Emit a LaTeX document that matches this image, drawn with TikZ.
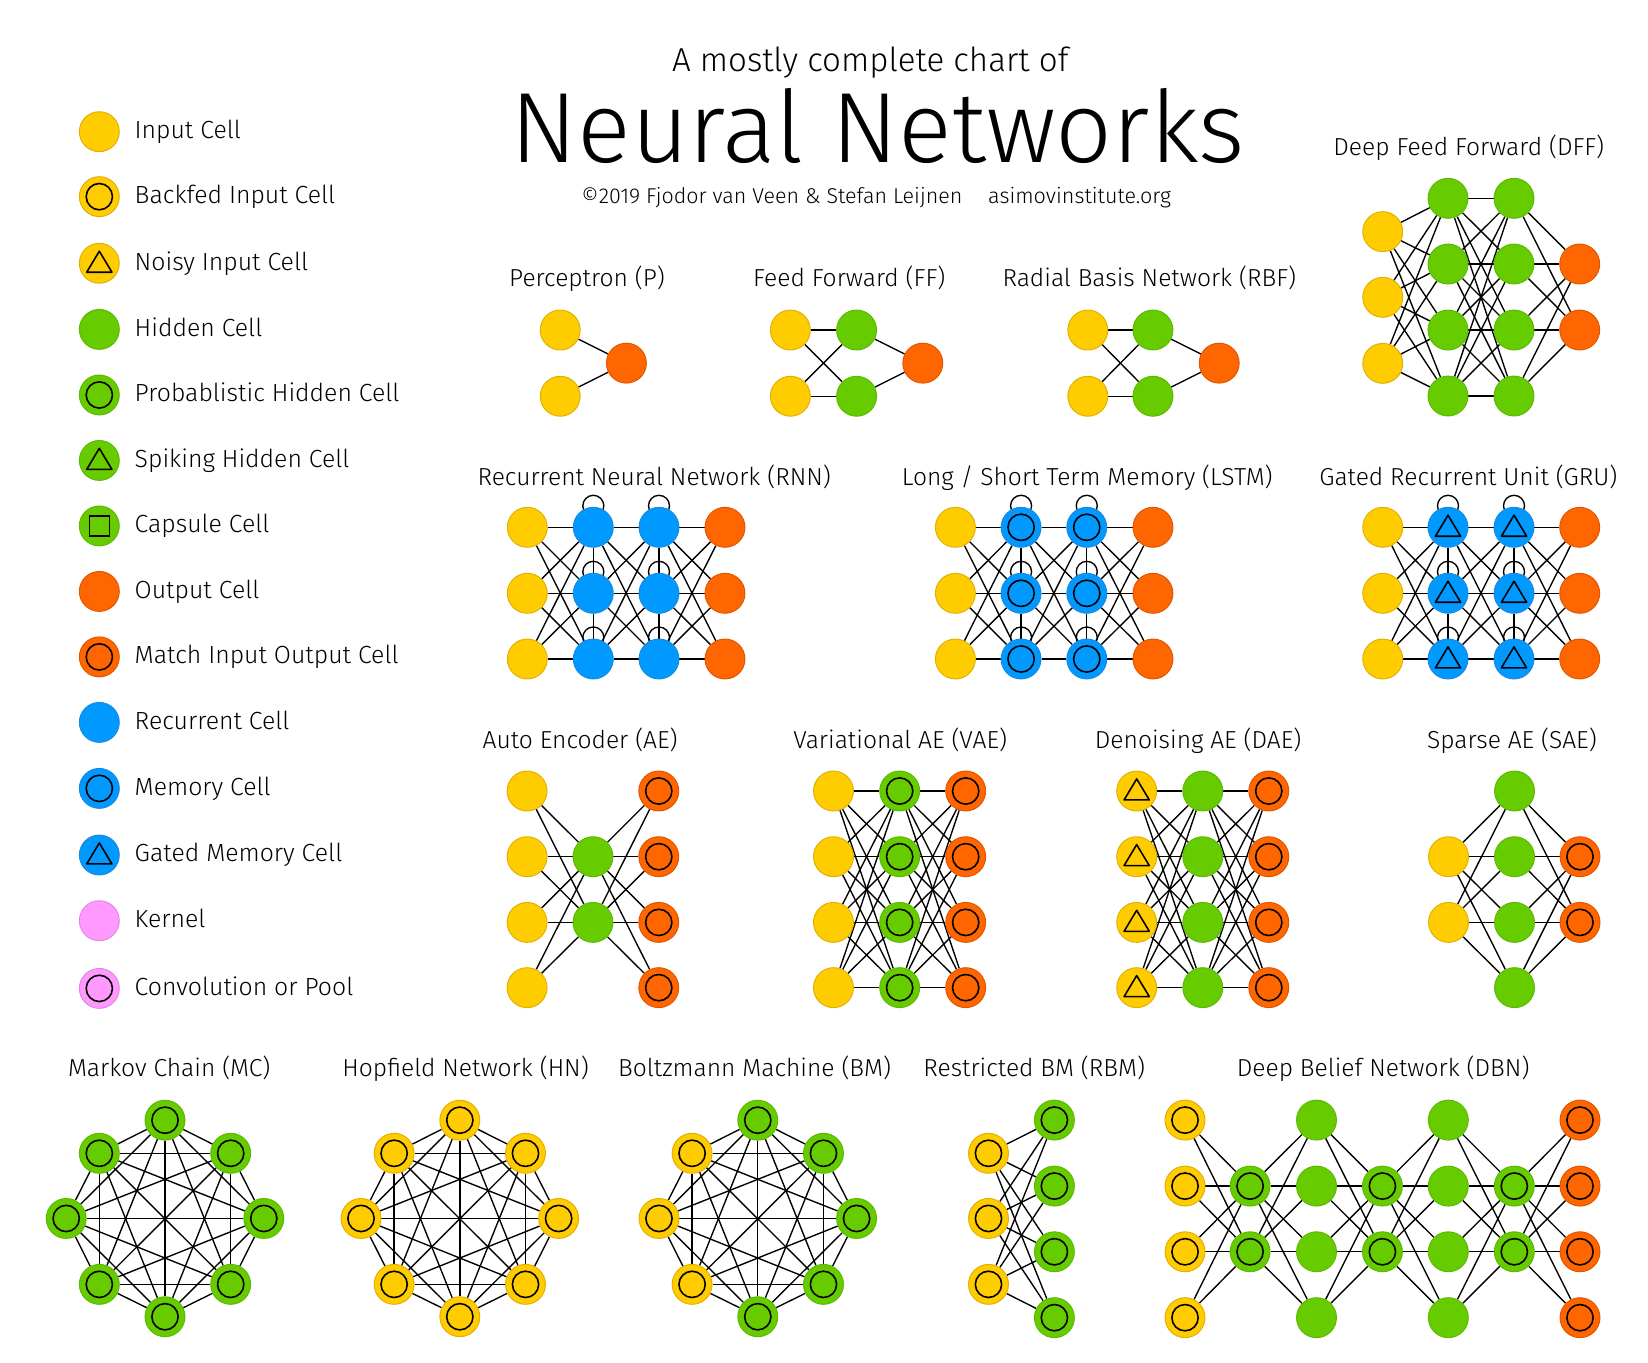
\documentclass[tikz,border=0pt]{standalone}
\usepackage{fontspec}
\setmainfont{Fira Sans Light}
\usetikzlibrary{backgrounds}
\definecolor{cyel}{HTML}{FFCC00}
\definecolor{cyelD}{HTML}{E0B000}
\definecolor{cgrn}{HTML}{66CC00}
\definecolor{cgrnD}{HTML}{5CB800}
\definecolor{corg}{HTML}{FF6600}
\definecolor{corgD}{HTML}{E05500}
\definecolor{cblu}{HTML}{0099FF}
\definecolor{cbluD}{HTML}{1A8AE0}
\definecolor{cpnk}{HTML}{FF99FF}
\definecolor{cpnkD}{HTML}{E088E0}
\newcommand\nncol[4]{\foreach \yy [count=\rr] in {#3} {\node[#4] (#1\rr) at (#2,\yy) {};}}
\newcommand\nnfull[4]{\foreach \aa in {1,...,#2} {\foreach \bb in {1,...,#4} {\draw[nnl] (#1\aa) -- (#3\bb);}}}
\newcommand\nnclique[1]{\foreach \aa in {1,...,8} {\foreach \bb in {1,...,8} {\ifnum\aa<\bb\relax \draw[nnl] (#1\aa) -- (#1\bb);\fi}}}
\newcommand\nnloops[1]{\foreach \nn in {#1} {\draw[nnloop] ([yshift=1pt]\nn.north) circle[radius=10pt];}}
\begin{document}
\begin{tikzpicture}[x=1pt,y=-1pt,
  nnl/.style={line width=1.3pt, black},
  nnloop/.style={line width=1.3pt, black},
  nnbase/.style={circle, minimum size=38pt, inner sep=0pt, line width=0.9pt},
  nninp/.style={nnbase, fill=cyel, draw=cyelD},
  nnhid/.style={nnbase, fill=cgrn, draw=cgrnD},
  nnout/.style={nnbase, fill=corg, draw=corgD},
  nnrec/.style={nnbase, fill=cblu, draw=cbluD},
  nnker/.style={nnbase, fill=cpnk, draw=cpnkD},
  ring/.style={path picture={\draw[draw=black, line width=1.5pt] (path picture bounding box.center) circle[radius=12.5pt];}},
  tri/.style={path picture={\draw[draw=black, line width=1.5pt, line join=round] ([shift={(0pt,11.5pt)}]path picture bounding box.center) -- ([shift={(12pt,-8.5pt)}]path picture bounding box.center) -- ([shift={(-12pt,-8.5pt)}]path picture bounding box.center) -- cycle;}},
  sqr/.style={path picture={\draw[draw=black, line width=1.5pt] ([shift={(-9.5pt,-9.5pt)}]path picture bounding box.center) rectangle ([shift={(9.5pt,9.5pt)}]path picture bounding box.center);}},
  lbl/.style={font=\fontsize{23.6}{28}\selectfont, anchor=base west, inner sep=0pt},
  ttl/.style={font=\fontsize{23.4}{28}\selectfont, anchor=base, inner sep=0pt},
]
\begin{scope}[on background layer]
\fill[white] (0,0) rectangle (1568,1296);
\end{scope}
\useasboundingbox (0,0) rectangle (1568,1296);

% ---------- titles ----------
\node[font=\fontsize{31.5}{38}\selectfont, anchor=base, inner sep=0pt] (h1) at (828,68) {A mostly complete chart of};
\node[font=\fontsize{95}{104}\selectfont, anchor=base, inner sep=0pt] (h2) at (835,155) {Neural Networks};
\node[font=\fontsize{20.4}{24}\selectfont, anchor=base west, inner sep=0pt] (h3) at (553,193.5) {©2019 Fjodor van Veen \& Stefan Leijnen};
\node[font=\fontsize{20.5}{24}\selectfont, anchor=base west, inner sep=0pt] (h4) at (940,193.5) {asimovinstitute.org};

% ---------- legend ----------
\node[nninp] (lg1) at (94.5,125.3) {};
\node[nninp,ring] (lg2) at (94.5,187.1) {};
\node[nninp,tri] (lg3) at (94.5,250.5) {};
\node[nnhid] (lg4) at (94.5,313.4) {};
\node[nnhid,ring] (lg5) at (94.5,375.8) {};
\node[nnhid,tri] (lg6) at (94.5,438.1) {};
\node[nnhid,sqr] (lg7) at (94.5,500.4) {};
\node[nnout] (lg8) at (94.5,562.7) {};
\node[nnout,ring] (lg9) at (94.5,625) {};
\node[nnrec] (lg10) at (94.5,687.3) {};
\node[nnrec,ring] (lg11) at (94.5,750.1) {};
\node[nnrec,tri] (lg12) at (94.5,813.5) {};
\node[nnker] (lg13) at (94.5,876) {};
\node[nnker,ring] (lg14) at (94.5,940.4) {};
\node[lbl] (lt1) at (128,131.8) {Input Cell};
\node[lbl] (lt2) at (128,193.6) {Backfed Input Cell};
\node[lbl] (lt3) at (128,257) {Noisy Input Cell};
\node[lbl] (lt4) at (128,319.9) {Hidden Cell};
\node[lbl] (lt5) at (128,382.3) {Probablistic Hidden Cell};
\node[lbl] (lt6) at (128,444.6) {Spiking Hidden Cell};
\node[lbl] (lt7) at (128,506.9) {Capsule Cell};
\node[lbl] (lt8) at (128,569.2) {Output Cell};
\node[lbl] (lt9) at (128,631.5) {Match Input Output Cell};
\node[lbl] (lt10) at (128,693.8) {Recurrent Cell};
\node[lbl] (lt11) at (128,756.6) {Memory Cell};
\node[lbl] (lt12) at (128,820) {Gated Memory Cell};
\node[lbl] (lt13) at (128,882.5) {Kernel};
\node[lbl] (lt14) at (128,946.9) {Convolution or Pool};

% ---------- network titles ----------
\node[ttl] (tp) at (558.5,273) {Perceptron (P)};
\node[ttl] (tff) at (808,273) {Feed Forward (FF)};
\node[ttl] (trbf) at (1093.5,273) {Radial Basis Network (RBF)};
\node[ttl] (tdff) at (1397.5,148.4) {Deep Feed Forward (DFF)};
\node[ttl] (trnn) at (622.5,461.5) {Recurrent Neural Network (RNN)};
\node[ttl] (tlstm) at (1034.5,461.5) {Long / Short Term Memory (LSTM)};
\node[ttl] (tgru) at (1397,461.5) {Gated Recurrent Unit (GRU)};
\node[ttl] (tae) at (552,712) {Auto Encoder (AE)};
\node[ttl] (tvae) at (856.5,712) {Variational AE (VAE)};
\node[ttl] (tdae) at (1140,712) {Denoising AE (DAE)};
\node[ttl] (tsae) at (1438.5,712) {Sparse AE (SAE)};
\node[ttl] (tmc) at (161,1024) {Markov Chain (MC)};
\node[ttl] (thn) at (443,1024) {Hopfield Network (HN)};
\node[ttl] (tbm) at (718,1024) {Boltzmann Machine (BM)};
\node[ttl] (trbm) at (984,1024) {Restricted BM (RBM)};
\node[ttl] (tdbn) at (1316,1024) {Deep Belief Network (DBN)};

% ---------- row 1 ----------
\nncol{pa}{533}{314,377}{nninp}
\nncol{pb}{596}{345.5}{nnout}
\nncol{ffa}{752}{314,377}{nninp}
\nncol{ffb}{815}{314,377}{nnhid}
\nncol{ffc}{878}{345.5}{nnout}
\nncol{rba}{1035}{314,377}{nninp}
\nncol{rbb}{1097}{314,377}{nnhid}
\nncol{rbc}{1160}{345.5}{nnout}
\nncol{dfa}{1315.6}{220.4,282.9,345.7}{nninp}
\nncol{dfb}{1377.7}{188.7,251.2,314,376.8}{nnhid}
\nncol{dfc}{1440.5}{188.7,251.2,314,376.8}{nnhid}
\nncol{dfd}{1503}{251.2,314}{nnout}

% ---------- row 2 ----------
\nncol{rna}{501.7}{501.7,564.5,627}{nninp}
\nncol{rnb}{564.5}{501.7,564.5,627}{nnrec}
\nncol{rnc}{627}{501.7,564.5,627}{nnrec}
\nncol{rnd}{689.8}{501.7,564.5,627}{nnout}
\nncol{lsa}{909}{501.7,564.5,627}{nninp}
\nncol{lsb}{971.5}{501.7,564.5,627}{nnrec,ring}
\nncol{lsc}{1034}{501.7,564.5,627}{nnrec,ring}
\nncol{lsd}{1097}{501.7,564.5,627}{nnout}
\nncol{gra}{1315.6}{501.7,564.5,627}{nninp}
\nncol{grb}{1377.7}{501.7,564.5,627}{nnrec,tri}
\nncol{grc}{1440.5}{501.7,564.5,627}{nnrec,tri}
\nncol{grd}{1503}{501.7,564.5,627}{nnout}

% ---------- row 3 ----------
\nncol{aea}{501.5}{752.6,815.1,877.6,939.7}{nninp}
\nncol{aeb}{564.2}{815.1,877.6}{nnhid}
\nncol{aec}{626.8}{752.6,815.1,877.6,939.7}{nnout,ring}
\nncol{vaa}{793}{752.6,815.1,877.6,939.7}{nninp}
\nncol{vab}{856}{752.6,815.1,877.6,939.7}{nnhid,ring}
\nncol{vac}{918.8}{752.6,815.1,877.6,939.7}{nnout,ring}
\nncol{daa}{1081.5}{752.6,815.1,877.6,939.7}{nninp,tri}
\nncol{dab}{1144.4}{752.6,815.1,877.6,939.7}{nnhid}
\nncol{dac}{1207.2}{752.6,815.1,877.6,939.7}{nnout,ring}
\nncol{saa}{1378.2}{815.1,877.6}{nninp}
\nncol{sab}{1441}{752.6,815.1,877.6,939.7}{nnhid}
\nncol{sac}{1503.3}{815.1,877.6}{nnout,ring}

% ---------- row 4 ----------
\foreach \dx/\dy [count=\k] in {0/-93.5,62.5/-62,94/0,62.5/62.7,0/93.5,-62.5/62.7,-94/0,-62.5/-62}
  {\node[nnhid,ring] (mc\k) at (157+\dx,1159.3+\dy) {};}
\foreach \dx/\dy [count=\k] in {0/-93.5,62.5/-62,94/0,62.5/62.7,0/93.5,-62.5/62.7,-94/0,-62.5/-62}
  {\node[nninp,ring] (hn\k) at (437.5+\dx,1159.3+\dy) {};}
\node[nnhid,ring] (bm1) at (721,1065.8) {};
\node[nnhid,ring] (bm2) at (783.5,1097.3) {};
\node[nnhid,ring] (bm3) at (815,1159.3) {};
\node[nnhid,ring] (bm4) at (783.5,1222) {};
\node[nnhid,ring] (bm5) at (721,1252.8) {};
\node[nninp,ring] (bm6) at (658.5,1222) {};
\node[nninp,ring] (bm7) at (627,1159.3) {};
\node[nninp,ring] (bm8) at (658.5,1097.3) {};
\nncol{rma}{940.5}{1097.3,1159.3,1222}{nninp,ring}
\nncol{rmb}{1003.2}{1065.7,1128.5,1191,1253.7}{nnhid,ring}
\nncol{dba}{1127.5}{1065.7,1128.5,1191,1253.7}{nninp,ring}
\nncol{dbb}{1189.4}{1128.5,1191}{nnhid,ring}
\nncol{dbc}{1252.6}{1065.7,1128.5,1191,1253.7}{nnhid}
\nncol{dbd}{1315.3}{1128.5,1191}{nnhid,ring}
\nncol{dbe}{1378}{1065.7,1128.5,1191,1253.7}{nnhid}
\nncol{dbf}{1440.8}{1128.5,1191}{nnhid,ring}
\nncol{dbg}{1503.3}{1065.7,1128.5,1191,1253.7}{nnout,ring}

% ---------- connectors ----------
\begin{scope}[on background layer]
\nnfull{pa}{2}{pb}{1}
\nnfull{ffa}{2}{ffb}{2}
\nnfull{ffb}{2}{ffc}{1}
\nnfull{rba}{2}{rbb}{2}
\nnfull{rbb}{2}{rbc}{1}
\nnfull{dfa}{3}{dfb}{4}
\nnfull{dfb}{4}{dfc}{4}
\nnfull{dfc}{4}{dfd}{2}
\nnfull{rna}{3}{rnb}{3}
\nnfull{rnb}{3}{rnc}{3}
\nnfull{rnc}{3}{rnd}{3}
\nnfull{lsa}{3}{lsb}{3}
\nnfull{lsb}{3}{lsc}{3}
\nnfull{lsc}{3}{lsd}{3}
\nnfull{gra}{3}{grb}{3}
\nnfull{grb}{3}{grc}{3}
\nnfull{grc}{3}{grd}{3}
\foreach \p in {rnb,rnc,lsb,lsc,grb,grc} {\draw[nnl] (\p1) -- (\p2); \draw[nnl] (\p2) -- (\p3);}
\nnloops{rnb1,rnb2,rnb3,rnc1,rnc2,rnc3,lsb1,lsb2,lsb3,lsc1,lsc2,lsc3,grb1,grb2,grb3,grc1,grc2,grc3}
\nnfull{aea}{4}{aeb}{2}
\nnfull{aeb}{2}{aec}{4}
\nnfull{vaa}{4}{vab}{4}
\nnfull{vab}{4}{vac}{4}
\nnfull{daa}{4}{dab}{4}
\nnfull{dab}{4}{dac}{4}
\nnfull{saa}{2}{sab}{4}
\nnfull{sab}{4}{sac}{2}
\nnclique{mc}
\nnclique{hn}
\nnclique{bm}
\nnfull{rma}{3}{rmb}{4}
\nnfull{dba}{4}{dbb}{2}
\nnfull{dbb}{2}{dbc}{4}
\nnfull{dbc}{4}{dbd}{2}
\nnfull{dbd}{2}{dbe}{4}
\nnfull{dbe}{4}{dbf}{2}
\nnfull{dbf}{2}{dbg}{4}
\end{scope}
\end{tikzpicture}
\end{document}
